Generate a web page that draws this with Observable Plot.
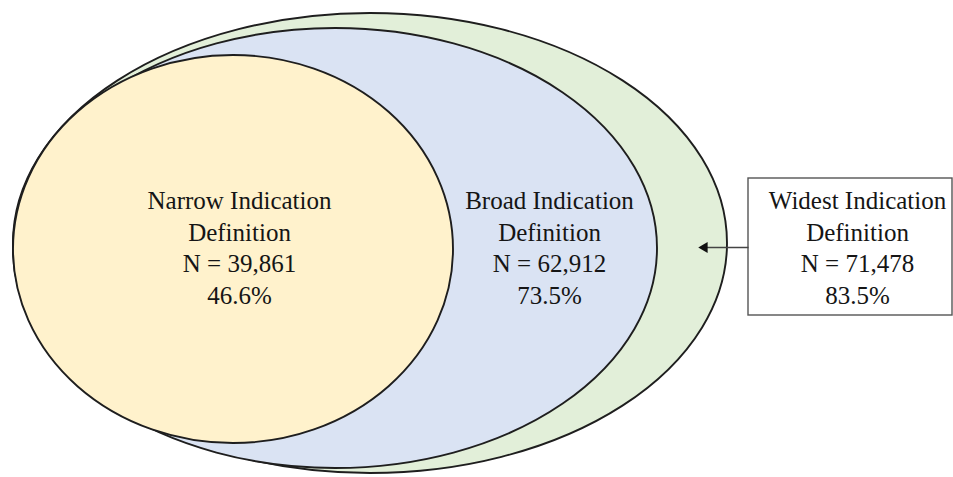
<!DOCTYPE html>
<html>
<head>
<meta charset="utf-8">
<script src="https://cdn.jsdelivr.net/npm/d3@7"></script>
<script src="https://cdn.jsdelivr.net/npm/@observablehq/plot@0.6"></script>
<style>
  html, body { margin: 0; padding: 0; background: #ffffff; }
  #chart svg { display: block; }
</style>
</head>
<body>
<div id="chart"></div>
<script>
// ---- data ----
const definitions = ["Widest Indication", "Broad Indication", "Narrow Indication"];
const counts = [71478, 62912, 39861];
const percents = ["83.5%", "73.5%", "46.6%"];

// ---- layout (pixel space of the 953x477 canvas) ----
const ellipseLayout = [
  {cx: 370, cy: 243, rx: 357, ry: 230, fill: "#e2efd9"},
  {cx: 335, cy: 248, rx: 322, ry: 220, fill: "#dae3f3"},
  {cx: 233, cy: 249, rx: 220, ry: 194, fill: "#fff2cc"}
];
const labelLayout = [
  {x: 857, y: 246},
  {x: 549, y: 246},
  {x: 239, y: 246}
];
const boxLayout = [{x1: 748, x2: 952, y1: 178, y2: 315}];
const arrowLayout = [{x1: 748, x2: 704, y: 247}];

const fmt = d3.format(",");
const labels = definitions.map((d, i) => ({
  text: `${d}\nDefinition\nN = ${fmt(counts[i])}\n${percents[i]}`,
  ...labelLayout[i]
}));

function ellipseRender(index, scales, values, dims, context) {
  const g = d3.create("svg:g");
  for (const i of index) {
    const e = ellipseLayout[i];
    g.append("ellipse")
      .attr("cx", scales.x(e.cx))
      .attr("cy", scales.y(e.cy))
      .attr("rx", Math.abs(scales.x(e.cx + e.rx) - scales.x(e.cx)))
      .attr("ry", Math.abs(scales.y(e.cy + e.ry) - scales.y(e.cy)))
      .attr("fill", e.fill)
      .attr("stroke", "#1e1e1e")
      .attr("stroke-width", 1.9);
  }
  return g.node();
}

const chart = Plot.plot({
  width: 953,
  height: 477,
  margin: 0,
  style: {background: "#ffffff", fontFamily: "'Liberation Serif', 'Times New Roman', serif"},
  x: {domain: [0, 953], range: [0, 953], axis: null},
  y: {domain: [0, 477], range: [0, 477], axis: null},
  marks: [
    Plot.dot(ellipseLayout, {x: "cx", y: "cy", render: ellipseRender}),
    Plot.rect(boxLayout, {x1: "x1", x2: "x2", y1: "y1", y2: "y2", fill: "#ffffff", stroke: "#555555", strokeWidth: 1.4}),
    Plot.link(arrowLayout, {x1: "x1", x2: "x2", y1: "y", y2: "y", stroke: "#444444", strokeWidth: 1.5}),
    Plot.dot(arrowLayout, {x: d => d.x2, y: "y", symbol: "triangle", r: 4, rotate: -90, fill: "#111111", stroke: "none"}),
    Plot.text(labels, {
      x: "x", y: "y", text: "text",
      fontSize: 25, lineHeight: 1.26, fill: "#151515",
      fontFamily: "'Liberation Serif', 'Times New Roman', serif",
      textAnchor: "middle"
    })
  ]
});
document.getElementById("chart").append(chart);
</script>
</body>
</html>
